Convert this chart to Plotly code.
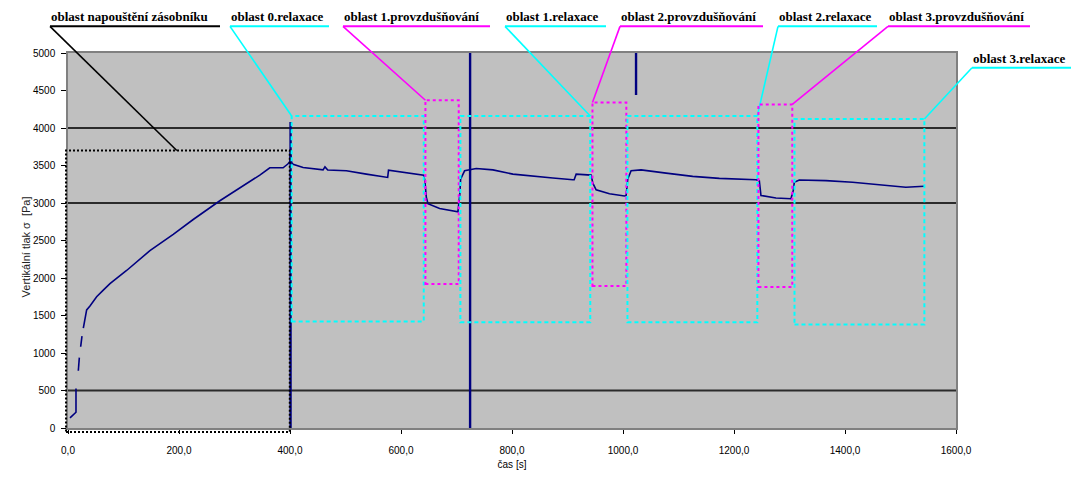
import plotly.graph_objects as go

# ---------------- data ----------------
time_s = [3.6, 10.8, 12.5, 14.4, 14.4, None, 18.6, 20.4, None, 22.8, 25.2, None,
          27.6, 31.2, 33.6, 39.6, 51.6, 63.6, 75.6, 105.6, 147.6, 189.6, 225.6, 273.6, 309.6,
          345.6, 363.6, 387.6, 396.0, 399.6, 400.5, 403.0,
          405.6, 423.6, 459.6, 463.0, 468.0, 501.6, 537.6, 573.6, 576.0, 577.5,
          627.6, 640.8, 643.0, 645.6, 648.6, 669.6, 702.6,
          706.0, 707.4, 714.6, 735.6, 765.6, 801.6, 837.6, 873.6, 909.6, 912.0,
          915.6, 942.6, 945.6, 951.6, 975.6, 1002.6,
          1005.6, 1007.0, 1008.6, 1014.6, 1032.6, 1077.6, 1125.6, 1173.6, 1203.6,
          1239.6, 1245.6, 1248.6, 1275.6, 1302.6,
          1306.8, 1308.6, 1317.6, 1365.6, 1413.6, 1461.6, 1509.6, 1542.6]
pressure_pa = [135, 193, 200, 210, 526, None, 763, 938, None, 1083, 1224, None,
               1333, 1465, 1575, 1628, 1750, 1838, 1925, 2100, 2365, 2583, 2780, 3030, 3197,
               3372, 3470, 3470, 3520, 3550, 3680, 3540,
               3517, 3473, 3442, 3482, 3440, 3429, 3385, 3341, 3341, 3437,
               3385, 3372, 3300, 3079, 2991, 2926, 2882,
               3122, 3318, 3429, 3460, 3442, 3385, 3355, 3333, 3311, 3311,
               3385, 3372, 3264, 3176, 3123, 3093,
               3100, 3210, 3320, 3429, 3442, 3398, 3355, 3329, 3320,
               3311, 3298, 3100, 3066, 3057,
               3166, 3276, 3306, 3298, 3276, 3245, 3210, 3223]

spike_time = [401, 401, None, 724.5, 724.5, None, 1023.5, 1023.5]
spike_pressure = [0, 4080, None, 0, 5400, None, 4440, 5400]

x_tick_values = [0, 200, 400, 600, 800, 1000, 1200, 1400, 1600]
x_tick_labels = ["0,0", "200,0", "400,0", "600,0", "800,0", "1000,0", "1200,0", "1400,0", "1600,0"]
y_tick_values = [0, 500, 1000, 1500, 2000, 2500, 3000, 3500, 4000, 4500, 5000]
y_tick_labels = ["0", "500", "1000", "1500", "2000", "2500", "3000", "3500", "4000", "4500", "5000"]
gridline_values = [500, 3000, 4000]

# regions: name, time from/to, pressure from/to
region_names = ["oblast napouštění zásobníku", "oblast 0.relaxace", "oblast 1.provzdušňování",
                "oblast 1.relaxace", "oblast 2.provzdušňování", "oblast 2.relaxace",
                "oblast 3.provzdušňování", "oblast 3.relaxace"]
region_t0 = [-3.6, 403, 644, 707, 945, 1008, 1244, 1309]
region_t1 = [399.6, 641, 704, 941, 1006, 1242, 1305, 1543]
region_p0 = [-53, 1420, 1920, 1410, 1895, 1410, 1880, 1380]
region_p1 = [3700, 4160, 4370, 4160, 4340, 4160, 4315, 4120]
# point of each region where the callout line ends
anchor_t = [196, 403, 644, 941, 945, 1242, 1305, 1543]
anchor_p = [3700, 4160, 4370, 4160, 4340, 4160, 4315, 4120]

# ---------------- styling / layout ----------------
X_RANGE = [0, 1600]
Y_RANGE = [0, 5000]
W, H = 1071, 481
ML, MR, MT, MB = 68, 115, 53, 48
PW, PH = W - ML - MR, H - MT - MB

region_colors = ["#000000", "#00FFFF", "#FF00FF", "#00FFFF", "#FF00FF", "#00FFFF", "#FF00FF", "#00FFFF"]
region_dash = ["2px,2px", "4px,3px", "3px,3px", "4px,3px", "3px,3px", "4px,3px", "3px,3px", "4px,3px"]
label_x_px = [50, 230, 343, 505, 620, 778, 888, 972]
label_y_px = [26, 26, 26, 26, 26, 26, 26, 68]
underline_px = [170, 99, 147, 101, 143, 99, 142, 99]


def tx(t):
    return (t - X_RANGE[0]) / (X_RANGE[1] - X_RANGE[0])


def py_(p):
    return (p - Y_RANGE[0]) / (Y_RANGE[1] - Y_RANGE[0])


def px2x(px):
    return (px - ML) / PW


def px2y(py):
    return (H - MB - py) / PH


fig = go.Figure()
fig.add_trace(go.Scatter(x=time_s, y=pressure_pa, mode="lines",
                         line=dict(color="#000080", width=1.6), showlegend=False,
                         hoverinfo="skip"))
fig.add_trace(go.Scatter(x=spike_time, y=spike_pressure, mode="lines",
                         line=dict(color="#000080", width=2.4), showlegend=False,
                         hoverinfo="skip"))

shapes = []
for g in gridline_values:
    shapes.append(dict(type="line", xref="paper", yref="y", x0=0, x1=1, y0=g, y1=g,
                       line=dict(color="#2b2b2b", width=2), layer="below"))

annotations = []
for i, name in enumerate(region_names):
    c = region_colors[i]
    shapes.append(dict(type="rect", xref="paper", yref="paper",
                       x0=tx(region_t0[i]), x1=tx(region_t1[i]),
                       y0=py_(region_p0[i]), y1=py_(region_p1[i]),
                       line=dict(color=c, width=2, dash=region_dash[i]),
                       fillcolor="rgba(0,0,0,0)", layer="above"))
    lx, ly = px2x(label_x_px[i]), px2y(label_y_px[i])
    shapes.append(dict(type="line", xref="paper", yref="paper",
                       x0=lx, x1=px2x(label_x_px[i] + underline_px[i]), y0=ly, y1=ly,
                       line=dict(color=c, width=2)))
    shapes.append(dict(type="line", xref="paper", yref="paper",
                       x0=lx, y0=ly, x1=tx(anchor_t[i]), y1=py_(anchor_p[i]),
                       line=dict(color=c, width=1.6)))
    annotations.append(dict(xref="paper", yref="paper", x=lx, y=px2y(label_y_px[i] - 1),
                            xanchor="left", yanchor="bottom", showarrow=False,
                            text="<b>" + name + "</b>", borderpad=0,
                            font=dict(family="Liberation Serif", size=13, color="#000000")))

annotations.append(dict(xref="paper", yref="paper", x=px2x(18), y=px2y(250), textangle=-90,
                        showarrow=False, text="Vertikální tlak σ  [Pa]",
                        font=dict(family="Liberation Sans", size=11, color="#222222")))

fig.update_layout(
    width=W, height=H,
    margin=dict(l=ML, r=MR, t=MT, b=MB),
    paper_bgcolor="white", plot_bgcolor="#C0C0C0",
    shapes=shapes, annotations=annotations,
    font=dict(family="Liberation Sans", size=10, color="#000000"),
    xaxis=dict(range=X_RANGE, tickvals=x_tick_values, ticktext=x_tick_labels,
               showgrid=False, zeroline=False, showline=True, mirror=True,
               linecolor="#808080", linewidth=1.5, ticks="outside", ticklen=4,
               tickcolor="#000000", ticklabelstandoff=8,
               title=dict(text="čas [s]", standoff=6, font=dict(size=10))),
    yaxis=dict(range=Y_RANGE, tickvals=y_tick_values, ticktext=y_tick_labels,
               showgrid=False, zeroline=False, showline=True, mirror=True,
               linecolor="#808080", linewidth=1.5, ticks="outside", ticklen=5,
               tickcolor="#000000", ticklabelstandoff=4),
)

fig.write_html("out.html")
